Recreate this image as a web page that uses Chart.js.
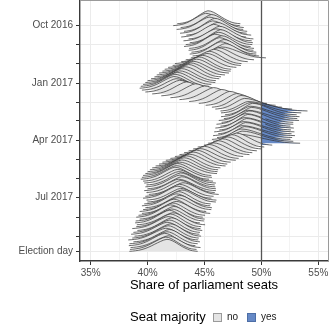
<!DOCTYPE html>
<html>
<head>
<meta charset="utf-8">
<script src="https://cdn.jsdelivr.net/npm/chart.js@4.4.1/dist/chart.umd.min.js"></script>
<style>
html,body{margin:0;padding:0;background:#fff;}
#wrap{width:330px;height:330px;position:relative;}
</style>
</head>
<body>
<div id="wrap"><canvas id="c" width="330" height="330"></canvas></div>
<script>
// ---- data ----
// day offsets from 1 Oct 2016 for each ridge (baseline)
const ridgeDays = [-2,1,4,7,10,13,16,19,22,25,28,31,34,37,40,43,46,49,52,55,58,61,64,67,70,73,76,79,82,85,88,91,94,97,100,103,106,109,112,115,118,121,124,127,130,133,136,139,142,145,148,151,154,157,160,163,166,169,172,175,178,181,184,187,190,193,196,199,202,205,208,211,214,217,220,223,226,229,232,235,238,241,244,247,250,253,256,259,262,265,268,271,274,277,280,283,286,289,292,295,298,301,304,307,310,313,316,319,322,325,328,331,334,337,340,343,346,349,352,355,358];
// mode of each ridge (share of seats, %)
const ridgeCenters = [45.3,45.1,45.6,45.4,45.9,45.7,46.1,45.8,46.3,46.0,46.4,46.2,45.9,46.5,46.3,46.7,46.4,46.8,46.5,46.2,45.8,45.4,45.2,44.8,44.5,44.3,44.0,43.8,43.6,43.3,43.0,42.8,42.6,42.4,42.3,42.5,42.8,43.4,44.2,45.0,45.8,46.5,47.2,47.8,48.2,48.5,48.8,49.0,49.2,49.0,49.1,48.8,48.9,48.6,48.8,48.5,48.7,48.4,48.6,48.3,48.5,48.2,48.3,48.0,47.8,47.4,47.0,46.6,46.2,45.8,45.4,45.0,44.6,44.3,44.0,43.7,43.4,43.2,43.0,42.8,42.6,42.5,42.4,42.6,42.7,42.9,42.8,43.0,42.7,42.9,43.1,42.8,42.6,42.9,43.0,42.7,42.5,42.8,42.6,42.3,42.5,42.2,42.0,42.3,42.1,41.9,42.2,42.0,41.8,42.1,41.9,41.7,42.0,41.8,41.6,41.9,41.7,41.5,41.8,41.6,41.7];
// stretch of the left-hand side of each ridge
const ridgeLefts = [0.9,0.95,0.9,0.95,0.9,0.95,0.9,0.95,0.9,0.95,0.9,0.95,0.9,0.95,0.9,0.95,0.9,0.95,0.9,0.95,0.95,1.0,1.0,1.0,1.0,1.0,1.0,1.0,1.0,1.0,1.0,1.0,1.0,1.0,1.0,1.0,1.0,1.0,1.0,1.0,1.0,0.95,0.9,0.9,0.85,0.85,0.8,0.85,0.8,0.85,0.8,0.85,0.8,0.85,0.8,0.85,0.8,0.85,0.8,0.85,0.8,0.85,0.85,0.9,0.95,1.0,1.0,1.0,1.0,1.0,1.0,1.0,1.0,1.0,1.0,1.0,1.0,1.0,1.0,1.0,1.0,1.0,1.0,1.0,1.0,1.0,1.0,1.0,1.0,1.0,1.0,1.0,1.0,1.0,1.0,1.0,1.0,1.0,1.0,1.0,1.0,1.0,1.0,1.0,1.05,1.0,1.05,1.0,1.05,1.0,1.05,1.05,1.05,1.05,1.1,1.05,1.1,1.05,1.1,1.05,1.1];
// stretch of the right-hand tail of each ridge
const ridgeTails = [0.95,1.0,0.95,1.0,0.95,1.0,1.0,0.95,1.0,1.05,0.95,1.0,1.05,0.95,1.0,0.95,1.05,1.0,1.3,1.05,1.0,0.95,1.0,1.0,0.95,1.0,1.05,1.0,0.95,1.0,1.0,1.05,1.0,1.0,1.05,1.1,1.05,1.0,1.0,1.05,1.0,1.05,1.1,1.15,1.2,1.4,1.75,1.5,1.3,1.45,1.35,1.5,1.3,1.4,1.25,1.45,1.3,1.5,1.35,1.55,1.4,1.45,1.5,1.8,1.05,0.95,1.0,1.0,1.0,1.05,1.0,1.0,1.05,1.0,1.0,1.05,1.0,1.0,1.05,1.1,1.0,1.05,1.0,1.05,1.1,1.0,1.05,1.0,1.1,1.0,1.05,1.0,1.0,1.05,1.0,0.95,1.0,0.95,1.0,0.95,1.0,0.95,0.95,0.9,0.95,0.9,0.95,0.9,0.95,0.9,0.9,0.95,0.9,0.9,0.95,0.9,0.9,0.9,0.95,0.9,0.9];
// shape of one ridge: offset from the mode (%), relative height
const profileOffsets = [-3.0,-2.75,-2.5,-2.25,-2.0,-1.75,-1.5,-1.25,-1.0,-0.75,-0.5,-0.25,0,0.25,0.5,0.75,1.0,1.25,1.5,1.75,2.0,2.25,2.5,2.75,3.0];
const profileHeights = [0,0.02,0.05,0.09,0.15,0.23,0.33,0.45,0.58,0.71,0.83,0.94,1.0,0.97,0.89,0.78,0.65,0.52,0.39,0.28,0.18,0.10,0.05,0.02,0];
// axis ticks
const yTickDays = [0,31,61,92,123,151,182,212,243,273,304,335,358];
const yTickLabels = ['Oct 2016','','','Jan 2017','','','Apr 2017','','','Jul 2017','','','Election day'];
const xTickValues = [35,37.5,40,42.5,45,47.5,50,52.5,55];
const xTickLabels = ['35%','','40%','','45%','','50%','','55%'];
const majorityLine = 50;
const legendTitle = 'Seat majority';
const legendLabels = ['no','yes'];

// ---- styles ----
const FONT = "'Liberation Sans', Arial, Helvetica, sans-serif";
const GRAY = '#e4e4e4';
const BLUE = '#6689c6';
const LINE = '#2e2e2e';
const RIDGE_HEIGHT = 19; // in days of the y scale

const datasets = [];
// bottom ridge first so later dates are drawn on top
for (let i = ridgeDays.length - 1; i >= 0; i--) {
  const base = ridgeDays[i], c = ridgeCenters[i], tail = ridgeTails[i], lft = ridgeLefts[i];
  const hs = RIDGE_HEIGHT * 2 / (lft + tail);
  const pts = profileOffsets.map((o, k) => ({
    x: c + o * (o > 0 ? tail : lft),
    y: base - profileHeights[k] * hs
  }));
  const left = [], right = [];
  for (let k = 0; k < pts.length; k++) {
    const p = pts[k];
    if (p.x <= majorityLine) left.push(p);
    if (k > 0) {
      const q = pts[k - 1];
      if (q.x < majorityLine && p.x > majorityLine) {
        const t = (majorityLine - q.x) / (p.x - q.x);
        const cut = {x: majorityLine, y: q.y + t * (p.y - q.y)};
        left.push(cut);
        right.push(cut);
      }
    }
    if (p.x > majorityLine) right.push(p);
  }
  const common = {borderColor: LINE, borderWidth: 0.7, pointRadius: 0, tension: 0, fill: {value: base}};
  datasets.push(Object.assign({data: left, backgroundColor: GRAY}, common));
  if (right.length > 1) datasets.push(Object.assign({data: right, backgroundColor: BLUE}, common));
}

const extras = {
  id: 'extras',
  afterDatasetsDraw(chart) {
    const {ctx, chartArea: a, scales: {x}} = chart;
    const px = Math.round(x.getPixelForValue(majorityLine)) + 0.5;
    ctx.save();
    ctx.strokeStyle = '#555';
    ctx.lineWidth = 1.3;
    ctx.beginPath(); ctx.moveTo(px, a.top); ctx.lineTo(px, a.bottom); ctx.stroke();
    ctx.strokeStyle = '#9a9a9a';
    ctx.lineWidth = 1;
    ctx.beginPath();
    ctx.moveTo(a.left, a.top - 0.5); ctx.lineTo(a.right + 0.5, a.top - 0.5); ctx.lineTo(a.right + 0.5, a.bottom);
    ctx.stroke();
    ctx.restore();
  },
  afterDraw(chart) {
    const ctx = chart.ctx;
    ctx.save();
    ctx.textBaseline = 'middle';
    ctx.fillStyle = '#000';
    ctx.font = '13px ' + FONT;
    ctx.fillText(legendTitle, 130, 317);
    ctx.lineWidth = 1;
    ctx.fillStyle = GRAY; ctx.strokeStyle = '#9a9a9a';
    ctx.fillRect(213.5, 313.5, 8, 8); ctx.strokeRect(213.5, 313.5, 8, 8);
    ctx.fillStyle = BLUE; ctx.strokeStyle = '#4d6ea6';
    ctx.fillRect(247.5, 313.5, 8, 8); ctx.strokeRect(247.5, 313.5, 8, 8);
    ctx.fillStyle = '#1a1a1a';
    ctx.font = '10px ' + FONT;
    ctx.fillText(legendLabels[0], 227, 317.5);
    ctx.fillText(legendLabels[1], 261, 317.5);
    ctx.restore();
  }
};

new Chart(document.getElementById('c'), {
  type: 'line',
  data: {datasets},
  plugins: [extras],
  options: {
    responsive: false,
    animation: false,
    events: [],
    layout: {padding: {top: 1, right: 2, bottom: 0, left: 0}},
    plugins: {legend: {display: false}, tooltip: {enabled: false}},
    scales: {
      x: {
        type: 'linear',
        min: 34.06, max: 55.85,
        afterBuildTicks: s => { s.ticks = xTickValues.map(v => ({value: v})); },
        afterFit: s => { s.height = 69; s.paddingLeft = 0; s.paddingRight = 0; },
        ticks: {
          autoSkip: false, maxRotation: 0, padding: 2,
          color: '#4d4d4d', font: {family: FONT, size: 10},
          callback: (v, i) => xTickLabels[i]
        },
        grid: {
          color: '#ebebeb',
          lineWidth: c => (xTickLabels[c.index] ? 1 : 0.6),
          tickColor: c => (xTickLabels[c.index] ? '#333' : 'rgba(0,0,0,0)'),
          tickLength: 4, tickWidth: 1
        },
        border: {display: true, color: '#3a3a3a', width: 1.4},
        title: {
          display: true, text: 'Share of parliament seats', color: '#000',
          font: {family: FONT, size: 13}, padding: {top: 0, bottom: 37}
        }
      },
      y: {
        type: 'linear',
        reverse: true,
        min: -37.97, max: 373.3,
        afterBuildTicks: s => { s.ticks = yTickDays.map(v => ({value: v})); },
        afterFit: s => { s.width = 80; s.paddingTop = 0; s.paddingBottom = 0; },
        ticks: {
          autoSkip: false, padding: 3,
          color: '#4d4d4d', font: {family: FONT, size: 10},
          callback: (v, i) => yTickLabels[i]
        },
        grid: {color: '#ebebeb', lineWidth: 1, tickColor: '#333', tickLength: 4, tickWidth: 1},
        border: {display: true, color: '#3a3a3a', width: 1.4}
      }
    }
  }
});
</script>
</body>
</html>
